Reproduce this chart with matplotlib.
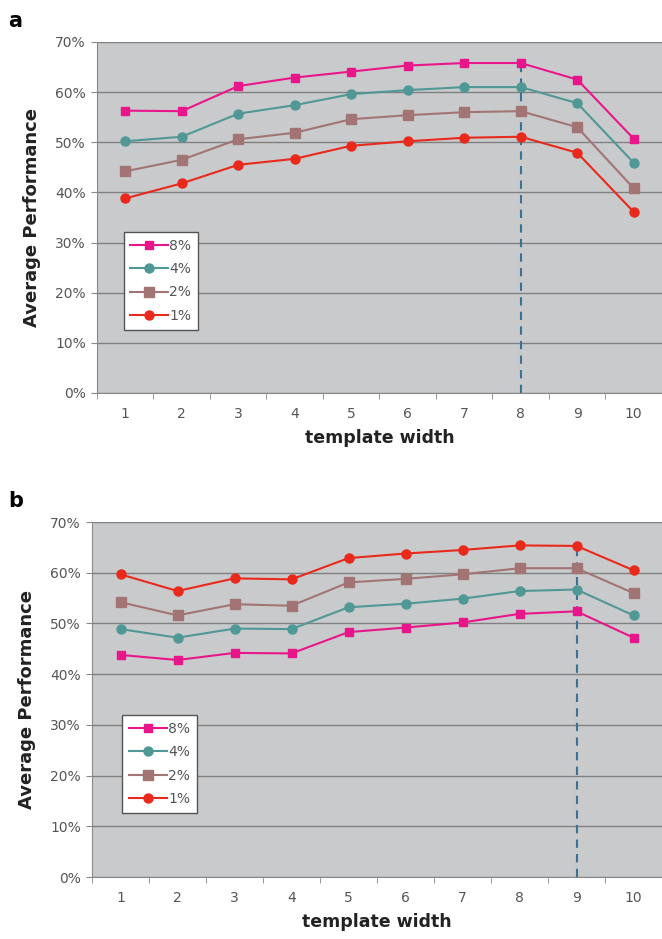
import numpy as np
import matplotlib.pyplot as plt
from matplotlib.ticker import FixedLocator, PercentFormatter

# --- data ---
widths = list(range(1, 11))
series_names = ["8%", "4%", "2%", "1%"]

a_8 = [56.3, 56.2, 61.2, 62.9, 64.1, 65.3, 65.8, 65.8, 62.5, 50.7]
a_4 = [50.2, 51.1, 55.7, 57.4, 59.6, 60.4, 61.0, 61.0, 57.8, 45.9]
a_2 = [44.2, 46.5, 50.6, 51.9, 54.6, 55.4, 56.0, 56.2, 53.0, 40.8]
a_1 = [38.8, 41.8, 45.5, 46.7, 49.3, 50.2, 50.9, 51.1, 47.9, 36.1]

b_8 = [43.8, 42.8, 44.2, 44.1, 48.3, 49.2, 50.2, 51.9, 52.4, 47.2]
b_4 = [48.9, 47.2, 49.0, 48.9, 53.2, 53.9, 54.9, 56.4, 56.7, 51.6]
b_2 = [54.2, 51.6, 53.8, 53.5, 58.1, 58.8, 59.7, 60.9, 60.9, 56.0]
b_1 = [59.7, 56.4, 58.9, 58.7, 62.9, 63.8, 64.5, 65.4, 65.3, 60.5]

best_a = 8
best_b = 9

colors = {"8%": "#e8168a", "4%": "#4f9896", "2%": "#a27474", "1%": "#e8291c"}
markers = {"8%": ("s", 5.5), "4%": ("o", 6.5), "2%": ("s", 7.5), "1%": ("o", 6.5)}

fig = plt.figure(figsize=(6.62, 9.39), dpi=100)
ax_a = fig.add_axes([0.1465, 0.5815, 0.8535, 0.3738])
ax_b = fig.add_axes([0.139, 0.066, 0.861, 0.378])


def draw_panel(ax, series, best, leg_x):
    ax.set_facecolor("#c9cacc")
    for name, vals in zip(series_names, series):
        m, ms = markers[name]
        ax.plot(widths, vals, color=colors[name], marker=m, markersize=ms,
                linewidth=1.5, label=name, zorder=3)
    # dashed marker line up to the highest curve at the best width
    top = max(s[best - 1] for s in series)
    ax.plot([best, best], [0, top], color="#3d7194", linestyle=(0, (4, 3)),
            linewidth=1.5, zorder=2)
    ax.set_xlim(0.5, 10.5)
    ax.set_ylim(0, 70)
    ax.set_yticks(range(0, 71, 10))
    ax.yaxis.set_major_formatter(PercentFormatter(decimals=0))
    ax.set_xticks(widths)
    ax.xaxis.set_minor_locator(FixedLocator(np.arange(0.5, 11, 1)))
    ax.tick_params(axis="x", which="major", length=0, pad=10,
                   labelsize=10, labelcolor="#555555")
    ax.tick_params(axis="x", which="minor", length=4, color="#888888",
                   direction="out")
    ax.tick_params(axis="y", length=4, color="#888888", labelsize=10,
                   labelcolor="#555555", pad=4)
    ax.grid(axis="y", color="#808080", linewidth=1.0)
    ax.set_axisbelow(True)
    for side in ["top", "right"]:
        ax.spines[side].set_visible(False)
    for side in ["left", "bottom"]:
        ax.spines[side].set_color("#888888")
    ax.set_ylabel("Average Performance", fontsize=13, fontweight="bold",
                  color="#222222", labelpad=10)
    ax.set_xlabel("template width", fontsize=12.5, fontweight="bold",
                  color="#222222", labelpad=6)
    leg = ax.legend(loc="lower left", bbox_to_anchor=(leg_x, 0.18),
                    fontsize=10, frameon=True, fancybox=False,
                    handlelength=2.7, handletextpad=0.1, borderpad=0.5,
                    labelspacing=0.68, borderaxespad=0)
    leg.get_frame().set_edgecolor("#555555")
    leg.get_frame().set_facecolor("white")
    leg.get_frame().set_alpha(1.0)
    leg.get_frame().set_linewidth(1.0)
    for t in leg.get_texts():
        t.set_color("#555555")


draw_panel(ax_a, [a_8, a_4, a_2, a_1], best_a, 0.047)
draw_panel(ax_b, [b_8, b_4, b_2, b_1], best_b, 0.053)

fig.text(0.012, 0.978, "a", fontsize=15, fontweight="bold", va="center")
fig.text(0.012, 0.466, "b", fontsize=15, fontweight="bold", va="center")

fig.savefig("out.png", dpi=100)
